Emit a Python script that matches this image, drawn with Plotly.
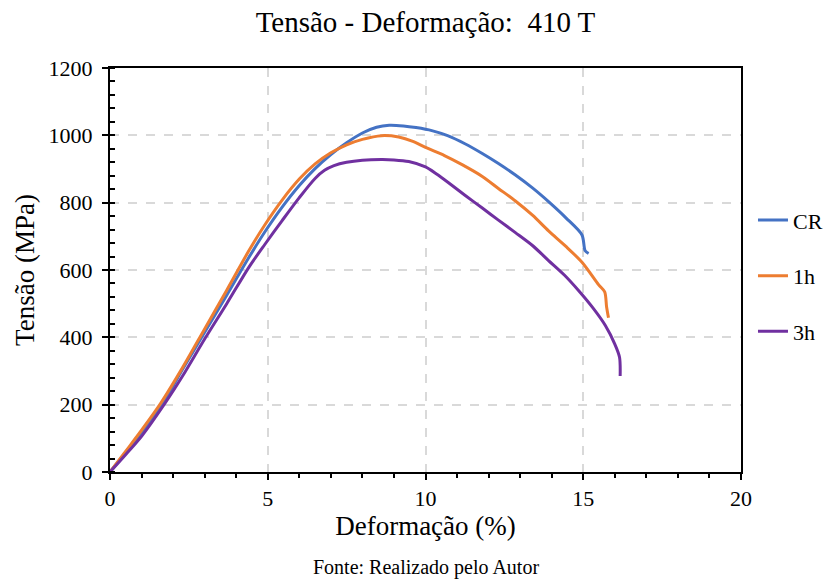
import plotly.graph_objects as go

# Stress-strain curves for 410 T steel
cr_strain = [0, 0.5, 1, 1.65, 2.3, 3.0, 3.7, 4.4, 4.9, 5.45, 6.0, 6.5, 7.0, 7.5, 8.0, 8.45, 8.85, 9.3, 9.7,
             10.2, 10.7, 11.25, 11.8, 12.3, 12.85, 13.4, 13.9, 14.45, 14.96, 15.06, 15.17]
cr_stress = [0, 58, 118, 200, 305, 415, 525, 637, 712, 786, 851, 901, 943, 978, 1007, 1024, 1030, 1028, 1023,
             1014, 999, 975, 946, 917, 882, 843, 803, 755, 704, 657, 649]

h1_strain = [0, 0.5, 1, 1.6, 2.3, 3.0, 3.7, 4.4, 4.9, 5.45, 6.0, 6.5, 7.0, 7.5, 8.0, 8.6, 9.15, 9.6, 10.0,
             10.6, 11.16, 11.8, 12.3, 12.85, 13.4, 13.9, 14.45, 14.96, 15.49, 15.68, 15.74, 15.8]
h1_stress = [0, 62, 124, 203, 310, 425, 540, 657, 733, 807, 870, 915, 948, 972, 988, 999, 995, 982, 964,
             940, 913, 878, 843, 805, 762, 716, 670, 623, 556, 535, 490, 458]

h3_strain = [0, 0.5, 1, 1.75, 2.3, 3.0, 3.7, 4.4, 4.9, 5.45, 6.0, 6.5, 6.8, 7.1, 7.5, 8.0, 8.6, 9.0, 9.47,
             10.0, 10.35, 10.73, 11.25, 11.8, 12.3, 12.85, 13.4, 13.9, 14.4, 14.85, 15.3, 15.7, 16.0, 16.15, 16.17]
h3_stress = [0, 52, 106, 205, 285, 395, 500, 608, 675, 746, 815, 872, 896, 910, 920, 926, 928, 927, 922,
             906, 885, 859, 822, 784, 749, 711, 672, 628, 585, 539, 488, 435, 380, 341, 285]

series_names = ["CR", "1h", "3h"]
series_colors = ["#4472C4", "#ED7D31", "#7030A0"]

serif = "Liberation Serif"

fig = go.Figure()
for name, xs, ys, color in zip(series_names,
                               [cr_strain, h1_strain, h3_strain],
                               [cr_stress, h1_stress, h3_stress],
                               series_colors):
    fig.add_trace(go.Scatter(
        x=xs, y=ys, mode="lines", name=name, legendgroup=name,
        line=dict(color=color, width=3, shape="spline", smoothing=0.8),
    ))

fig.update_layout(
    width=840, height=581,
    paper_bgcolor="white", plot_bgcolor="white",
    margin=dict(l=110, r=97, t=68, b=109),
    font=dict(family=serif, color="black"),
    title=dict(text="Tensão - Deformação:  410 T", x=0.5, xref="paper",
               y=0.962, yref="container", xanchor="center", yanchor="middle",
               font=dict(size=29, family=serif, color="black")),
    legend=dict(x=1.019, y=0.675, xanchor="left", yanchor="top",
                font=dict(size=22, family=serif), tracegroupgap=24,
                bgcolor="rgba(0,0,0,0)"),
    annotations=[dict(text="Fonte: Realizado pelo Autor", x=0.5, y=-0.2376,
                      xref="paper", yref="paper", xanchor="center",
                      yanchor="middle", showarrow=False,
                      font=dict(size=20, family=serif, color="black"))],
)

fig.update_xaxes(
    range=[0, 20], tick0=0, dtick=5, showline=True, linecolor="black",
    linewidth=2, mirror=True, ticks="outside", ticklen=6, tickwidth=2,
    tickcolor="black", showgrid=True, gridcolor="#d9d9d9", gridwidth=2,
    griddash="dash", zeroline=False,
    minor=dict(dtick=1, ticks="outside", ticklen=4, tickwidth=1.5,
               tickcolor="black", showgrid=False),
    tickfont=dict(size=22, family=serif),
    title=dict(text="Deformação (%)", font=dict(size=27, family=serif), standoff=4),
)
fig.update_yaxes(
    range=[0, 1200], tick0=0, dtick=200, showline=True, linecolor="black",
    linewidth=2, mirror=True, ticks="outside", ticklen=6, tickwidth=2,
    tickcolor="black", showgrid=True, gridcolor="#d9d9d9", gridwidth=2,
    griddash="dash", zeroline=False, ticklabelstandoff=5,
    minor=dict(dtick=40, ticks="inside", ticklen=5, tickwidth=1.5,
               tickcolor="black", showgrid=False),
    tickfont=dict(size=22, family=serif),
    title=dict(text="Tensão (MPa)", font=dict(size=27, family=serif), standoff=6),
)

fig.write_html("out.html")
